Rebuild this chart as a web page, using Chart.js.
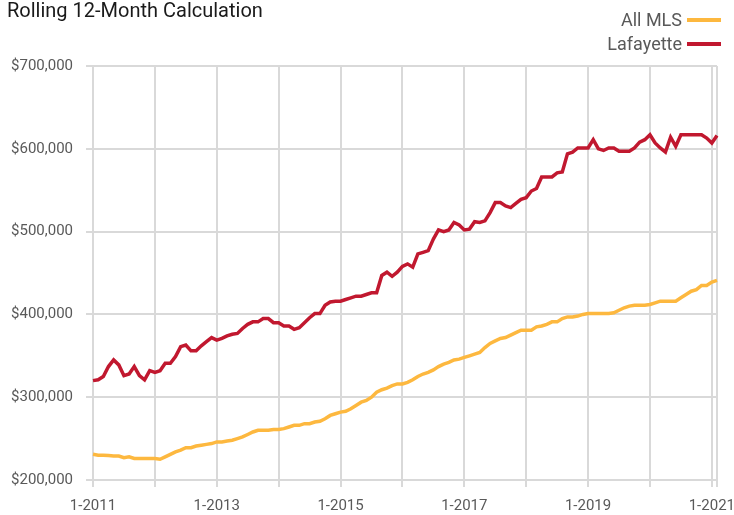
<!DOCTYPE html>
<html>
<head>
<meta charset="utf-8">
<title>Rolling 12-Month Calculation</title>
<script src="https://cdn.jsdelivr.net/npm/chart.js@4.4.1/dist/chart.umd.min.js"></script>
<style>
  html, body { margin: 0; padding: 0; background: #fff; }
  #wrap { position: relative; width: 734px; height: 515px; }
</style>
</head>
<body>
<div id="wrap"><canvas id="rollingChart"></canvas></div>
<script>
// monthly categories, 1-2011 through 2-2021
const monthLabels = [];
for (let y = 2011; y <= 2021; y++) {
  for (let m = 1; m <= 12; m++) {
    if (y === 2021 && m > 2) break;
    monthLabels.push(m + '-' + y);
  }
}

const xTickLabels = ['1-2011', '1-2013', '1-2015', '1-2017', '1-2019', '1-2021'];
const yTickValues = [200000, 300000, 400000, 500000, 600000, 700000];

const seriesNames = ['All MLS', 'Lafayette'];
const seriesColors = ['#FDB83F', '#C1182F'];

// rolling 12-month median sale price
const allMlsValues = [
  231000, 230000, 230000, 229500, 229000, 229000, 227000, 228000, 226000, 226000, 226000, 226000,
  226000, 225000, 228000, 231000, 234000, 236000, 239000, 239000, 241000, 242000, 243000, 244000,
  246000, 246000, 247000, 248000, 250000, 252000, 255000, 258000, 260000, 260000, 260000, 261000,
  261000, 262000, 264000, 266000, 266000, 268000, 268000, 270000, 271000, 274000, 278000, 280000,
  282000, 283000, 286000, 290000, 294000, 296000, 300000, 306000, 309000, 311000, 314000, 316000,
  316000, 318000, 321000, 325000, 328000, 330000, 333000, 337000, 340000, 342000, 345000, 346000,
  348000, 350000, 352000, 354000, 360000, 365000, 368000, 371000, 372000, 375000, 378000, 381000,
  381000, 381000, 385000, 386000, 388000, 391000, 391000, 395000, 397000, 397000, 398000, 400000,
  401000, 401000, 401000, 401000, 401000, 402000, 405000, 408000, 410000, 411000, 411000, 411000,
  412000, 414000, 416000, 416000, 416000, 416000, 420000, 424000, 428000, 430000, 435000, 435000,
  439000, 441000
];

const lafayetteValues = [
  320000, 321000, 325000, 337000, 345000, 339000, 326000, 328000, 337000, 326000, 321000, 332000,
  330000, 332000, 341000, 341000, 349000, 361000, 363000, 356000, 356000, 362000, 367000, 372000,
  369000, 371000, 374000, 376000, 377000, 383000, 388000, 391000, 391000, 395000, 395000, 390000,
  390000, 386000, 386000, 382000, 384000, 390000, 396000, 401000, 401000, 411000, 415000, 416000,
  416000, 418000, 420000, 422000, 422000, 424000, 426000, 426000, 447000, 451000, 446000, 451000,
  458000, 461000, 457000, 473000, 475000, 477000, 491000, 502000, 500000, 502000, 511000, 508000,
  502000, 503000, 512000, 511000, 513000, 523000, 535000, 535000, 531000, 529000, 534000, 539000,
  541000, 549000, 552000, 566000, 566000, 566000, 571000, 572000, 594000, 596000, 601000, 601000,
  601000, 611000, 600000, 598000, 601000, 601000, 597000, 597000, 597000, 601000, 608000, 611000,
  617000, 607000, 601000, 596000, 614000, 603000, 617000, 617000, 617000, 617000, 617000, 613000,
  607000, 616000
];

const gridColor = '#D9D9D9';
const tickColor = '#595959';
const fontFamily = 'Roboto, "Noto Sans", sans-serif';

// legend stacked top-right, text first then the swatch line
const rightLegend = {
  id: 'rightLegend',
  afterDraw(chart) {
    const ctx = chart.ctx;
    const rows = [20, 44];
    ctx.save();
    ctx.font = '18px ' + fontFamily;
    ctx.textAlign = 'right';
    ctx.textBaseline = 'middle';
    chart.data.datasets.forEach((ds, i) => {
      const y = rows[i];
      ctx.fillStyle = tickColor;
      ctx.fillText(ds.label, 682, y + 1);
      ctx.strokeStyle = ds.borderColor;
      ctx.lineWidth = 4;
      ctx.beginPath();
      ctx.moveTo(687, y);
      ctx.lineTo(721, y);
      ctx.stroke();
    });
    ctx.restore();
  }
};

const rollingData = {
  labels: monthLabels,
  datasets: [{
    label: seriesNames[0],
    data: allMlsValues,
    borderColor: seriesColors[0],
    backgroundColor: seriesColors[0],
    borderWidth: 3.5,
    pointRadius: 0,
    tension: 0
  }, {
    label: seriesNames[1],
    data: lafayetteValues,
    borderColor: seriesColors[1],
    backgroundColor: seriesColors[1],
    borderWidth: 3.5,
    pointRadius: 0,
    tension: 0
  }]
};

const rollingConfig = {
  type: 'line',
  data: rollingData,
  plugins: [rightLegend],
  options: {
    responsive: true,
    maintainAspectRatio: false,
    animation: false,
    layout: {
      padding: { left: 7, right: 17, top: 0, bottom: 0 }
    },
    plugins: {
      legend: { display: false },
      tooltip: { enabled: false },
      title: {
        display: true,
        text: 'Rolling 12-Month Calculation',
        align: 'start',
        color: '#1A1A1A',
        font: { family: fontFamily, size: 20, weight: 'normal' },
        padding: { top: 0, bottom: 42 }
      }
    },
    scales: {
      x: {
        grid: {
          lineWidth: 2,
          tickLength: 7,
          color: (ctx) => {
            const lab = monthLabels[ctx.index];
            if ((lab && lab.startsWith('1-')) || ctx.index === monthLabels.length - 1) return gridColor;
            return 'rgba(0,0,0,0)';
          }
        },
        border: { color: gridColor, width: 2 },
        ticks: {
          autoSkip: false,
          maxRotation: 0,
          padding: 10,
          color: tickColor,
          font: { family: fontFamily, size: 15 },
          callback: (value, index) => xTickLabels.includes(monthLabels[index]) ? monthLabels[index] : ''
        },
        afterFit: (scale) => { scale.height = 35; }
      },
      y: {
        min: yTickValues[0],
        max: yTickValues[yTickValues.length - 1],
        grid: { color: gridColor, lineWidth: 2, tickLength: 7 },
        border: { color: gridColor, width: 2 },
        ticks: {
          stepSize: 100000,
          padding: 13,
          color: tickColor,
          font: { family: fontFamily, size: 15 },
          callback: (value) => '$' + value.toLocaleString('en-US')
        },
        afterFit: (scale) => { scale.width = 86; }
      }
    }
  }
};

const rollingChart = new Chart(
  document.getElementById('rollingChart'),
  rollingConfig
);
</script>
</body>
</html>
